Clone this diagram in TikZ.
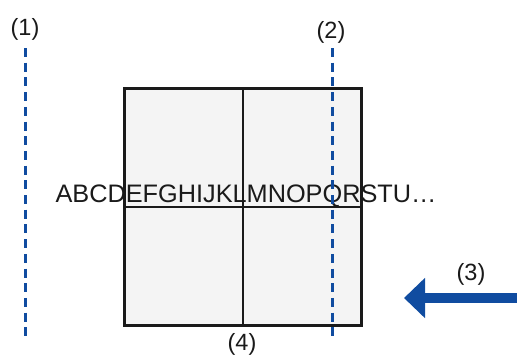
\documentclass[tikz,border=0pt]{standalone}
\usepackage{fontspec}
\setmainfont{Liberation Sans}
\usetikzlibrary{arrows.meta}
\definecolor{guide}{RGB}{16,76,160}
\definecolor{ink}{RGB}{26,26,26}
\definecolor{panel}{RGB}{244,244,244}
\begin{document}
\begin{tikzpicture}[x=1pt,y=-1pt,
  lbl/.style={font=\fontsize{23.5pt}{28pt}\selectfont, text=ink, inner sep=0pt, anchor=base},
  guideline/.style={draw=guide, line width=3pt, dash pattern=on 9pt off 5.7pt},
  panelbox/.style={draw=ink, fill=panel, line width=2.3pt, inner sep=0pt, minimum width=236pt, minimum height=236pt},
  divider/.style={draw=ink, line width=1.6pt},
  bigarrow/.style={draw=guide, line width=9.3pt, -{Triangle[length=21pt,width=39pt]}}]
\useasboundingbox (0,0) rectangle (517,357);
% panel
\node[panelbox] (box) at (243,207) {};
% long text over the panel
\node[lbl, font=\fontsize{25.3pt}{30pt}\selectfont] (txt) at (246,202) {ABCDEFGHIJKLMNOPQRSTU…};
% dividers and border redrawn over the text
\draw[divider] (box.north) -- (box.south);
\draw[divider] (box.west) -- (box.east);
\draw[draw=ink, line width=2.3pt] (box.south west) rectangle (box.north east);
% guide lines
\coordinate (g1t) at (25,48);
\coordinate (g1b) at (25,336);
\coordinate (g2t) at (332,48);
\coordinate (g2b) at (332,336);
\draw[guideline] (g1t) -- (g1b);
\draw[guideline] (g2t) -- (g2b);
% arrow
\coordinate (as) at (517,298);
\coordinate (ae) at (404,298);
\draw[bigarrow] (as) -- (ae);
% labels
\node[lbl] (l1) at (25,35) {(1)};
\node[lbl] (l2) at (331,38) {(2)};
\node[lbl] (l3) at (471,280) {(3)};
\node[lbl] (l4) at (242,350) {(4)};
\end{tikzpicture}
\end{document}
